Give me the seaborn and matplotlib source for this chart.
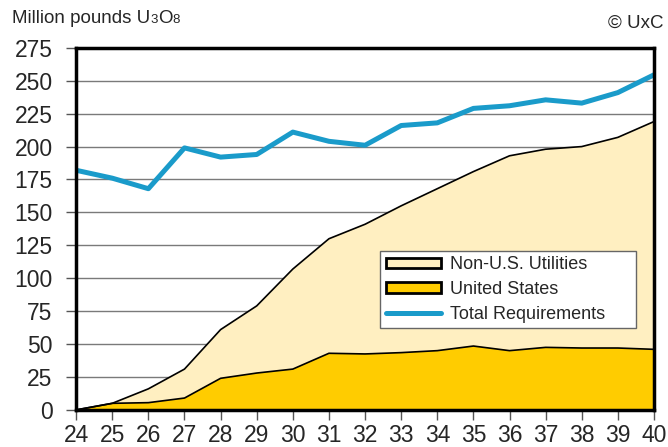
import numpy as np
import pandas as pd
import matplotlib
matplotlib.use("Agg")
import matplotlib.pyplot as plt
import seaborn as sns
from matplotlib.patches import Patch
from matplotlib.lines import Line2D
from matplotlib.offsetbox import TextArea, HPacker, AnchoredOffsetbox

# data (million pounds U3O8)
years = [24, 25, 26, 27, 28, 29, 30, 31, 32, 33, 34, 35, 36, 37, 38, 39, 40]
united_states = [0, 5, 5.5, 9, 24, 28, 31, 43, 42.5, 43.5, 45, 48.5, 45, 47.5, 47, 47, 46]
non_us = [0, 0, 10.5, 22, 37, 51, 76, 87, 98.5, 111.5, 123, 132.5, 148, 150.5, 153, 160, 173]
total_requirements = [182, 176, 168, 199, 192, 194, 211, 204, 201, 216, 218, 229, 231, 235.5, 233, 241, 254.5]

BEIGE = "#FFEFC1"
GOLD = "#FFCC00"
BLUE = "#1A9BCA"

df = pd.DataFrame({"year": years, "us": united_states, "nonus": non_us,
                   "total": total_requirements})
df["stack"] = df["us"] + df["nonus"]

sns.set_style("white")
plt.rcParams["font.family"] = ["Liberation Sans", "DejaVu Sans"]

fig = plt.figure(figsize=(6.68, 4.47), dpi=100)
ax = fig.add_axes([0.114, 0.083, 0.865, 0.810])

# stacked areas
ax.fill_between(df["year"], 0, df["stack"], color=BEIGE, zorder=2)
ax.fill_between(df["year"], 0, df["us"], color=GOLD, zorder=3)
sns.lineplot(data=df, x="year", y="stack", color="black", lw=1.2, ax=ax, zorder=4)
sns.lineplot(data=df, x="year", y="us", color="black", lw=1.2, ax=ax, zorder=4)
sns.lineplot(data=df, x="year", y="total", color=BLUE, lw=3.6, ax=ax, zorder=5)

ax.set_xlim(24, 40)
ax.set_ylim(0, 275)
ax.set_xticks(years)
ax.set_yticks(np.arange(0, 276, 25))
ax.yaxis.grid(True, color="#7a7a7a", lw=1)
ax.set_axisbelow(True)
ax.set_xlabel("")
ax.set_ylabel("")
for s in ax.spines.values():
    s.set_color("black")
    s.set_linewidth(2.5)
    s.set_zorder(6)
ax.tick_params(axis="both", which="both", direction="out", length=7, width=1,
               color="#555555", labelsize=16.5, bottom=True, left=True)
ax.tick_params(axis="x", pad=3)
ax.tick_params(axis="y", pad=10)

handles = [
    Patch(facecolor=BEIGE, edgecolor="black", lw=2, label="Non-U.S. Utilities"),
    Patch(facecolor=GOLD, edgecolor="black", lw=2, label="United States"),
    Line2D([], [], color=BLUE, lw=3.6, label="Total Requirements"),
]
leg = ax.legend(handles=handles, loc="upper left",
                bbox_to_anchor=(0.526, 0.2265, 0.443, 0.2125), mode="expand",
                fontsize=13, frameon=True, fancybox=False, framealpha=1,
                edgecolor="#666666", handlelength=3.1, handleheight=0.55,
                borderpad=0.3, labelspacing=0.42, handletextpad=0.45,
                borderaxespad=0)
leg.get_frame().set_linewidth(1)
leg.set_zorder(7)

# title with small digits
big, small = 13.5, 9.5
parts = [TextArea("Million pounds U", textprops=dict(size=big)),
         TextArea("3", textprops=dict(size=small)),
         TextArea("O", textprops=dict(size=big)),
         TextArea("8", textprops=dict(size=small))]
box = HPacker(children=parts, align="baseline", pad=0, sep=0)
anch = AnchoredOffsetbox(loc="upper left", child=box, pad=0, frameon=False,
                         bbox_to_anchor=(0.018, 0.978),
                         bbox_transform=fig.transFigure, borderpad=0)
fig.add_artist(anch)
fig.text(0.993, 0.937, "© UxC", ha="right", va="baseline", size=13.5)

plt.savefig("out.png", dpi=100)
